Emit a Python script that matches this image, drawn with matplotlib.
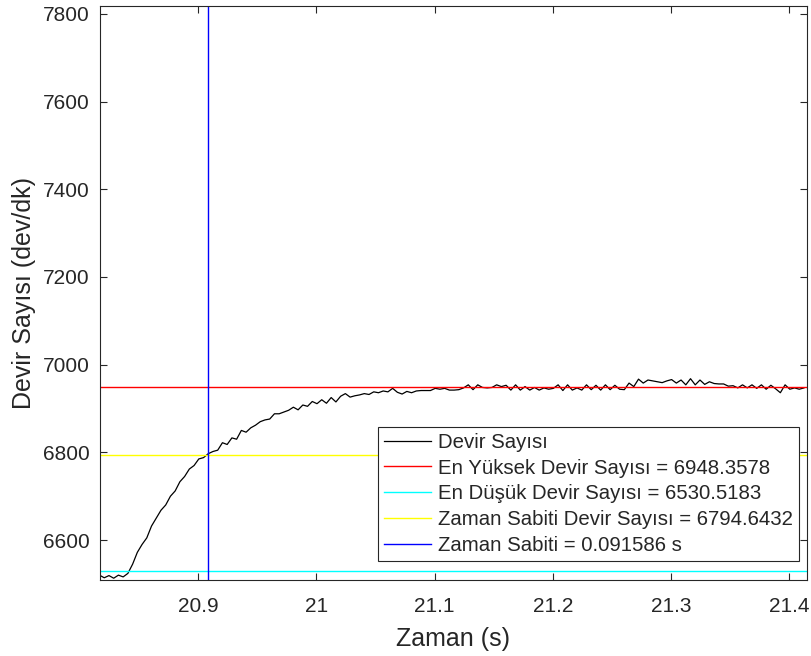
import numpy as np
import matplotlib
matplotlib.use("Agg")
import matplotlib.pyplot as plt
from matplotlib.ticker import FuncFormatter

t_start = 20.8165
dt = 0.004
devir = [6520, 6514, 6519, 6513, 6520, 6516, 6524, 6545, 6572, 6590,
         6605, 6632, 6650, 6668, 6680, 6700, 6712, 6733, 6745, 6762,
         6770, 6785, 6788, 6797, 6802, 6805, 6822, 6818, 6833, 6830,
         6850, 6846, 6856, 6862, 6870, 6874, 6876, 6888, 6888, 6892,
         6896, 6903, 6897, 6908, 6905, 6916, 6911, 6920, 6912, 6925,
         6915, 6928, 6934, 6926, 6929, 6931, 6934, 6932, 6938, 6936,
         6940, 6938, 6946, 6937, 6933, 6939, 6936, 6940, 6941, 6941,
         6941, 6946, 6944, 6946, 6942, 6942, 6943, 6947, 6954, 6943,
         6954, 6948, 6947, 6948, 6954, 6950, 6953, 6942, 6954, 6942,
         6950, 6942, 6948, 6942, 6947, 6944, 6946, 6954, 6941, 6954,
         6942, 6947, 6942, 6954, 6943, 6953, 6942, 6954, 6943, 6953,
         6944, 6943, 6958, 6950, 6967, 6958, 6965, 6963, 6961, 6959,
         6963, 6966, 6958, 6965, 6954, 6968, 6954, 6965, 6955, 6961,
         6957, 6956, 6956, 6951, 6952, 6947, 6954, 6947, 6954, 6946,
         6954, 6944, 6953, 6945, 6936, 6954, 6944, 6947, 6944, 6947]
zaman = t_start + dt * np.arange(len(devir))

en_yuksek = 6948.3578
en_dusuk = 6530.5183
tau_devir = 6794.6432
tau = 0.091586

plt.rcParams['font.family'] = ['Liberation Sans', 'DejaVu Sans']
txt = '#262626'

fig = plt.figure(figsize=(8.11, 6.56), dpi=100)
ax = fig.add_axes([0.1227, 0.1159, 0.8723, 0.875])

ax.plot(zaman, devir, color='black', lw=0.9, label='Devir Sayısı')
ax.axhline(en_yuksek, color='#ff0000', lw=1.0,
           label='En Yüksek Devir Sayısı = %.4f' % en_yuksek)
ax.axhline(en_dusuk, color='#00ffff', lw=1.0,
           label='En Düşük Devir Sayısı = %.4f' % en_dusuk)
ax.axhline(tau_devir, color='#ffff00', lw=1.0,
           label='Zaman Sabiti Devir Sayısı = %.4f' % tau_devir)
ax.axvline(t_start + tau, color='#0000ff', lw=1.0,
           label='Zaman Sabiti = %g s' % tau)

ax.set_xlim(t_start, 21.415)
ax.set_ylim(6509, 7818)
ax.set_xticks([20.9, 21.0, 21.1, 21.2, 21.3, 21.4])
ax.set_yticks(np.arange(6600, 7801, 200))
ax.xaxis.set_major_formatter(FuncFormatter(lambda v, p: '%g' % round(v, 2)))

ax.tick_params(direction='in', top=True, right=True, length=5, width=0.8,
               labelsize=15, colors=txt)
ax.tick_params(axis='x', pad=12)
ax.tick_params(axis='y', pad=7)
for s in ax.spines.values():
    s.set_color(txt)
    s.set_linewidth(0.8)

ax.set_xlabel('Zaman (s)', fontsize=18, color=txt, labelpad=8)
ax.set_ylabel('Devir Sayısı (dev/dk)', fontsize=18, color=txt, labelpad=5)

leg = ax.legend(loc='lower right', bbox_to_anchor=(0.9887, 0.0331),
                borderaxespad=0, fontsize=14.7, fancybox=False,
                framealpha=1, edgecolor=txt, handlelength=2.3,
                handletextpad=0.35, labelspacing=0.33, borderpad=0.3)
leg.get_frame().set_linewidth(0.8)
for t in leg.get_texts():
    t.set_color(txt)

fig.savefig('out.png', dpi=100)
